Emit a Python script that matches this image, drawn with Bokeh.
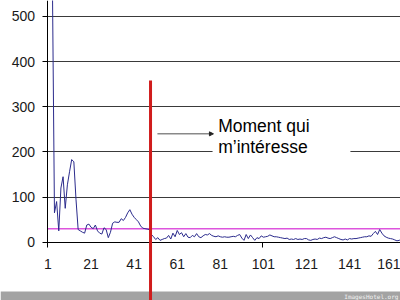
from bokeh.plotting import figure
from bokeh.models import Range1d, FixedTicker, BoxAnnotation, Label, Arrow, NormalHead
from bokeh.embed import file_html
from bokeh.resources import INLINE

# ---------------- data ----------------
categories = list(range(1, 166))
values = [
    1500, 900, 600, 65, 90, 25, 120, 145, 75, 127,
    156, 183, 178, 95, 28, 25, 22, 20, 38, 40,
    33, 30, 38, 25, 20, 18, 32, 28, 10, 22,
    42, 45, 44, 44, 52, 48, 55, 65, 72, 62,
    55, 50, 45, 36, 31, 30, 29, 28, 17, 12,
    6, 10, 4, 6, 8, 9, 15, 7, 20, 12,
    26, 17, 21, 12, 19, 11, 10, 15, 12, 19,
    12, 10, 14, 17, 16, 19, 15, 13, 12, 14,
    12, 11, 12, 11, 11, 12, 13, 12, 15, 17,
    9, 4, 17, 8, 16, 10, 4, 10, 8, 14,
    11, 12, 13, 16, 14, 12, 12, 11, 10, 9,
    8, 9, 6, 7, 6, 8, 6, 7, 6, 8,
    8, 5, 4, 6, 7, 6, 9, 8, 10, 11,
    9, 8, 10, 12, 10, 8, 6, 5, 7, 5,
    8, 7, 8, 8, 9, 10, 11, 12, 12, 14,
    13, 19, 24, 17, 28, 20, 14, 11, 9, 8,
    7, 5, 3, 4, 6,
]
x_tick_labels = [1, 21, 41, 61, 81, 101, 121, 141, 161]
y_ticks = [0, 100, 200, 300, 400, 500]
threshold = 30
marker_category = 48.6
annotation_lines = ["Moment qui", "m\u2019int\u00e9resse"]
footer_text = "ImagesHotel.org"

FONT = "Liberation Sans"

p = figure(width=400, height=300,
           x_range=Range1d(-21.05, 164.65), y_range=Range1d(-129.2, 535.4),
           output_backend="svg", toolbar_location=None, min_border=0)
p.outline_line_color = None
p.background_fill_color = "white"
p.border_fill_color = "white"

# axes
xa = p.xaxis[0]
xa.fixed_location = 0
xa.bounds = (1, 200)
xa.ticker = FixedTicker(ticks=x_tick_labels, minor_ticks=[100.5])
xa.major_tick_out = 0
xa.major_tick_in = 0
xa.minor_tick_out = 5
xa.minor_tick_in = 0
xa.minor_tick_line_color = "black"
xa.axis_line_color = "black"
xa.major_label_text_font = FONT
xa.major_label_text_font_size = "14px"
xa.major_label_text_color = "#1a1a1a"
xa.major_label_standoff = 12

ya = p.yaxis[0]
ya.fixed_location = 1
ya.bounds = (-11, 540)
ya.ticker = FixedTicker(ticks=y_ticks)
ya.major_tick_out = 5
ya.major_tick_in = 0
ya.minor_tick_out = 0
ya.minor_tick_in = 0
ya.axis_line_color = "black"
ya.major_tick_line_color = "black"
ya.major_label_text_font = FONT
ya.major_label_text_font_size = "14px"
ya.major_label_text_color = "#1a1a1a"
ya.major_label_standoff = 8

p.xgrid.visible = False
p.ygrid.ticker = FixedTicker(ticks=y_ticks[1:])
p.ygrid.grid_line_color = "#3a3a3a"
p.ygrid.grid_line_width = 1
p.ygrid.cross_bounds = (1, 200)

# threshold line
p.ray(x=[1], y=[threshold], length=0, angle=0, line_color="#dd55dd", line_width=1.5)

# data line
p.line(categories, values, line_color="#2b2b8c", line_width=1)

# annotation box + texts
p.add_layout(BoxAnnotation(left=77.4, right=141.4, bottom=174.3, top=278.5,
                           fill_color="white", fill_alpha=1, line_color=None))
p.add_layout(Label(x=80.0, y=234.2, text=annotation_lines[0], text_font=FONT,
                   text_font_size="17.5px", text_color="black"))
p.add_layout(Label(x=80.0, y=188.3, text=annotation_lines[1], text_font=FONT,
                   text_font_size="17.5px", text_color="black"))
p.add_layout(Arrow(x_start=51.8, y_start=240, x_end=77.8, y_end=240,
                   line_color="#222222", line_width=0.8,
                   end=NormalHead(size=4, fill_color="#222222", line_color="#222222")))

# footer bar
p.add_layout(BoxAnnotation(top=-109.2, fill_color="#a3a3a3", fill_alpha=1, line_color=None))
p.add_layout(Label(x=163.7, y=-119.5, text=footer_text, text_font="DejaVu Sans Mono",
                   text_font_size="6px", text_color="#f2f2f2",
                   text_align="right", text_baseline="middle"))

# red marker line
p.add_layout(Arrow(x_start=marker_category, y_start=-140, x_end=marker_category, y_end=358,
                   line_color="#d01c1c", line_width=3, end=None))

open("out.html", "w").write(file_html(p, INLINE))
